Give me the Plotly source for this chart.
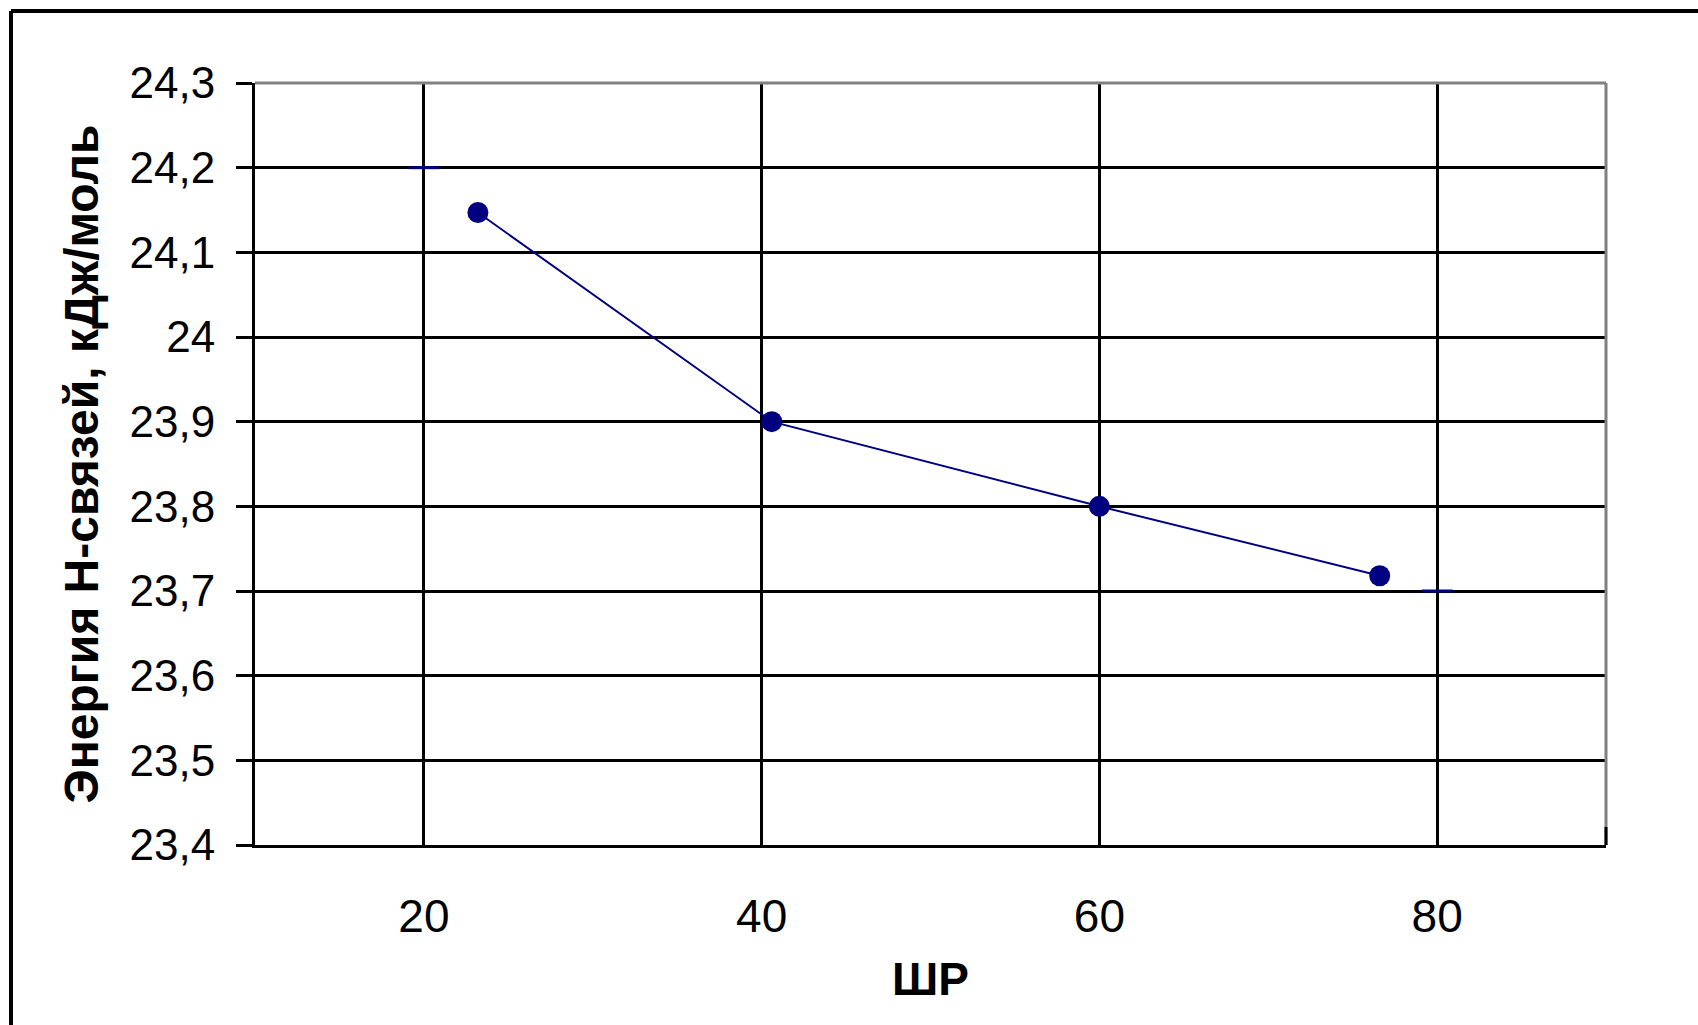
import plotly.graph_objects as go

# Energy of hydrogen bonds versus ШР
shr = [23.2, 40.6, 60.0, 76.6]
energy = [24.147, 23.90, 23.80, 23.718]

# secondary series drawn as short horizontal dashes
aux_x = [20, 80]
aux_y = [24.2, 23.7]

y_ticks = [23.4, 23.5, 23.6, 23.7, 23.8, 23.9, 24.0, 24.1, 24.2, 24.3]
y_labels = ["23,4", "23,5", "23,6", "23,7", "23,8", "23,9", "24", "24,1", "24,2", "24,3"]
x_ticks = [20, 40, 60, 80]
x_labels = ["20", "40", "60", "80"]

W, H = 1698, 1025
ML, MR, MT, MB = 255, 92, 83, 180
PW, PH = W - ML - MR, H - MT - MB

NAVY = "#000080"
GREY = "#808080"
FONT = "Liberation Sans, Arial, sans-serif"

fig = go.Figure()
fig.add_trace(go.Scatter(
    x=shr, y=energy, mode="lines+markers",
    line=dict(color=NAVY, width=2),
    marker=dict(symbol="circle", size=21, color=NAVY),
    showlegend=False, cliponaxis=False,
))
fig.add_trace(go.Scatter(
    x=aux_x, y=aux_y, mode="markers",
    marker=dict(symbol="line-ew", size=22, line=dict(color=NAVY, width=3)),
    showlegend=False,
))


def px_x(p):
    return (p - ML) / PW


def px_y(p):
    return (H - MB - p) / PH


shapes = [
    # grey top and right edges of the plot area
    dict(type="line", xref="paper", yref="paper", x0=0, x1=1, y0=1, y1=1,
         line=dict(color=GREY, width=3), layer="above"),
    dict(type="line", xref="paper", yref="paper", x0=1, x1=1, y0=0, y1=1,
         line=dict(color=GREY, width=3), layer="above"),
    # short black tick at the lower right corner
    dict(type="line", xref="paper", yref="paper", x0=1, x1=1, y0=0, y1=18 / PH,
         line=dict(color="black", width=3), layer="above"),
    # outer chart frame (top and left sides)
    dict(type="line", xref="paper", yref="paper", x0=px_x(11), x1=px_x(W + 20),
         y0=px_y(11), y1=px_y(11), line=dict(color="black", width=4), layer="above"),
    dict(type="line", xref="paper", yref="paper", x0=px_x(11), x1=px_x(11),
         y0=px_y(11), y1=px_y(H + 20), line=dict(color="black", width=4), layer="above"),
]

fig.update_layout(
    width=W, height=H,
    margin=dict(l=ML, r=MR, t=MT, b=MB, autoexpand=False),
    paper_bgcolor="white", plot_bgcolor="white",
    shapes=shapes,
    font=dict(family=FONT, color="black"),
)

fig.update_xaxes(
    range=[10, 90], tickvals=x_ticks, ticktext=x_labels,
    showgrid=True, gridcolor="black", gridwidth=3,
    showline=True, linecolor="black", linewidth=3,
    ticks="", zeroline=False,
    tickfont=dict(family=FONT, size=46, color="black"),
    ticklabelstandoff=29,
    title=dict(text="ШР", font=dict(family=FONT, size=46, color="black", weight="bold"), standoff=22),
)
fig.update_yaxes(
    range=[23.4, 24.3], tickvals=y_ticks, ticktext=y_labels,
    showgrid=True, gridcolor="black", gridwidth=3,
    showline=True, linecolor="black", linewidth=3,
    ticks="outside", ticklen=16, tickwidth=3, tickcolor="black",
    zeroline=False,
    tickfont=dict(family=FONT, size=44, color="black"),
    ticklabelstandoff=12,
    title=dict(text="Энергия Н-связей, кДж/моль",
               font=dict(family=FONT, size=48, color="black", weight="bold"), standoff=16),
)

fig.write_html("out.html")
